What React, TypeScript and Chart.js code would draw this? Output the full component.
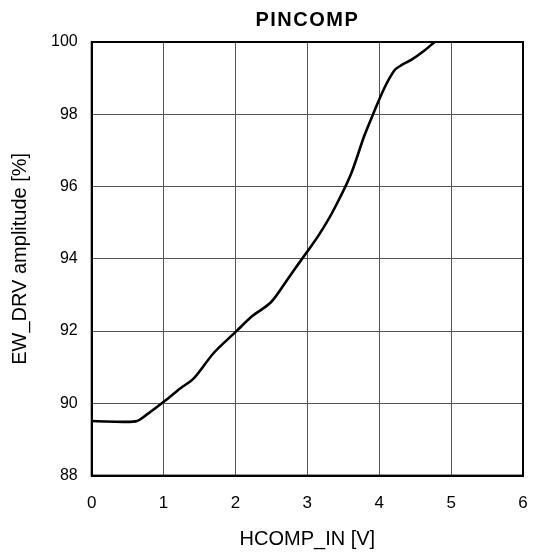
import React, { useEffect, useRef } from "react";
import { Chart, registerables } from "chart.js";

Chart.register(...registerables);

const xValues = [0, 0.61, 0.76, 1.02, 1.23, 1.42, 1.7, 2.01, 2.23, 2.49, 2.7, 2.84, 3.01, 3.17, 3.36, 3.6, 3.79, 3.91, 4.07, 4.21, 4.31, 4.45, 4.62, 4.77];
const yValues = [89.51, 89.5, 89.68, 90.07, 90.41, 90.69, 91.4, 91.99, 92.41, 92.79, 93.36, 93.76, 94.23, 94.69, 95.33, 96.31, 97.39, 97.98, 98.72, 99.21, 99.36, 99.51, 99.75, 100.0];

const titleText = "PINCOMP";
const xTitle = "HCOMP_IN [V]";
const yTitle = "EW_DRV amplitude [%]";

export default function App() {
  const ref = useRef<HTMLCanvasElement | null>(null);
  useEffect(() => {
    document.body.style.margin = "0";
    const canvas = ref.current!;
    const font = "'Liberation Sans', Arial, sans-serif";
    const chart = new Chart(canvas, {
      type: "line",
      data: {
        datasets: [
          {
            data: xValues.map((x, i) => ({ x, y: yValues[i] })),
            borderColor: "#000",
            borderWidth: 2.6,
            pointRadius: 0,
            tension: 0.3,
            fill: false,
          },
        ],
      },
      options: {
        responsive: false,
        animation: false,
        layout: { padding: { left: 0, right: 11, top: 4, bottom: 2 } },
        plugins: {
          legend: { display: false },
          tooltip: { enabled: false },
          title: {
            display: true,
            fullSize: false,
            text: titleText,
            color: "#000",
            font: { family: font, size: 20, weight: "bold" },
            padding: { top: 4, bottom: 10 },
          },
        },
        scales: {
          x: {
            type: "linear",
            min: 0,
            max: 6,
            ticks: { stepSize: 1, color: "#000", font: { family: font, size: 17 }, padding: 6 },
            grid: { color: "#555", lineWidth: 1, drawTicks: true, tickLength: 12, tickColor: "rgba(0,0,0,0)" },
            border: { color: "#000", width: 2 },
            title: { display: true, text: xTitle, color: "#000", font: { family: font, size: 20 }, padding: { top: 7, bottom: 0 } },
          },
          y: {
            type: "linear",
            min: 88,
            max: 100,
            ticks: { stepSize: 2, color: "#000", font: { family: font, size: 16 }, padding: 6 },
            grid: { color: "#555", lineWidth: 1, drawTicks: true, tickLength: 8, tickColor: "rgba(0,0,0,0)" },
            border: { color: "#000", width: 2 },
            title: { display: true, text: yTitle, color: "#000", font: { family: font, size: 20 }, padding: { top: 8, bottom: 13 } },
          },
        },
      },
      plugins: [
        {
          id: "titleSpacing",
          beforeDraw(c) {
            const tb = (c as any).titleBlock;
            if (tb && !tb.__patched) {
              const orig = tb.draw.bind(tb);
              tb.draw = () => {
                const ctx = c.ctx as any;
                ctx.save();
                ctx.letterSpacing = "1.5px";
                orig();
                ctx.restore();
              };
              tb.__patched = true;
            }
          },
        },
        {
          id: "frame",
          afterDraw(c) {
            const { left, right, top, bottom } = c.chartArea;
            const ctx = c.ctx;
            ctx.save();
            ctx.strokeStyle = "#000";
            ctx.lineWidth = 2;
            ctx.strokeRect(left, top, right - left, bottom - top);
            ctx.restore();
          },
        },
      ],
    });
    return () => chart.destroy();
  }, []);
  return <canvas ref={ref} width={534} height={553} style={{ display: "block" }} />;
}
